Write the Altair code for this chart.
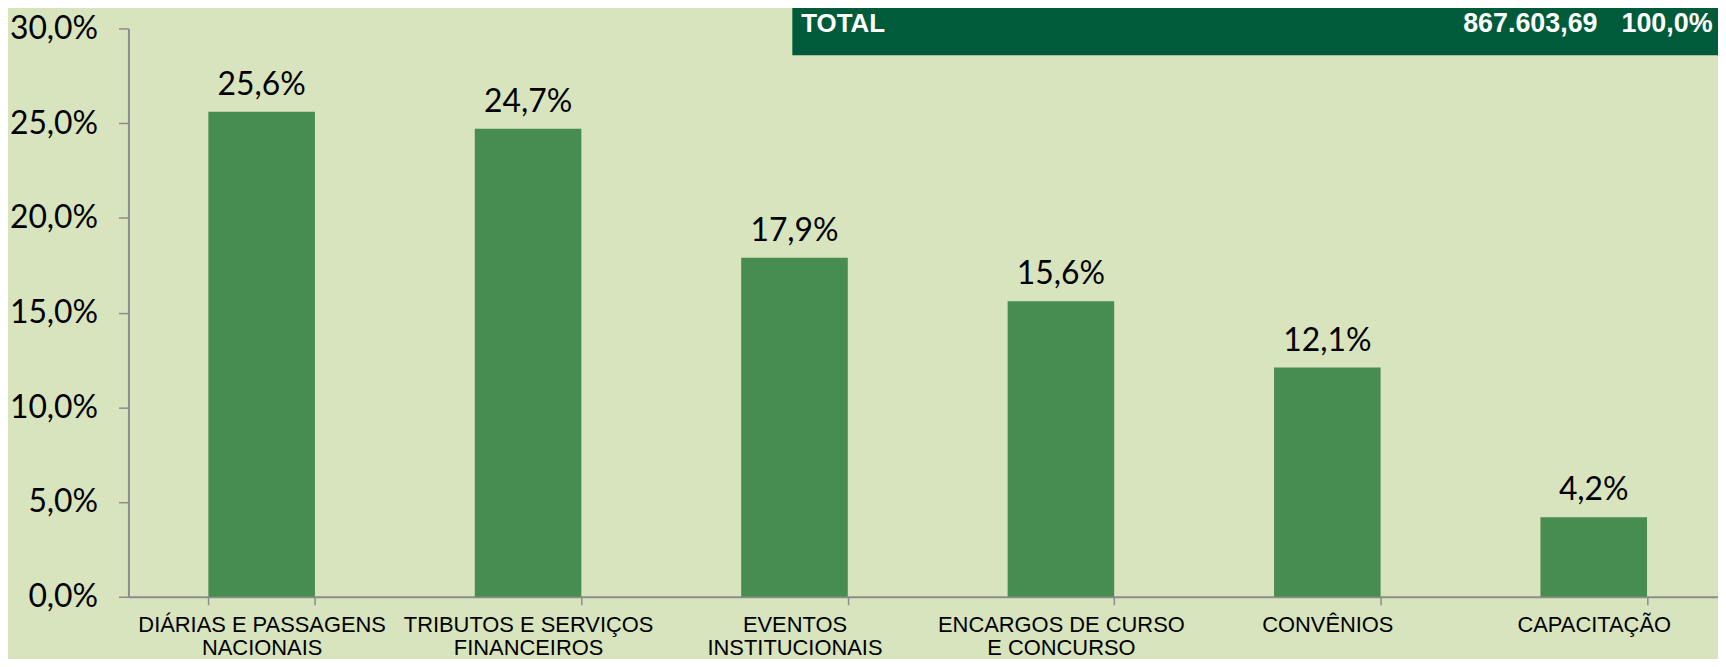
import altair as alt
import pandas as pd

categories = [
    "DIÁRIAS E PASSAGENS|NACIONAIS",
    "TRIBUTOS E SERVIÇOS|FINANCEIROS",
    "EVENTOS|INSTITUCIONAIS",
    "ENCARGOS DE CURSO|E CONCURSO",
    "CONVÊNIOS",
    "CAPACITAÇÃO",
]
shares = [25.6, 24.7, 17.9, 15.6, 12.1, 4.2]
labels = ["25,6%", "24,7%", "17,9%", "15,6%", "12,1%", "4,2%"]
total_row = ["TOTAL", "867.603,69", "100,0%"]

BG = "#D8E4BD"
BAR = "#478C50"
BOX = "#005B3B"
AXIS = "#8C8C8C"
NUMFONT = "Lato"
CATFONT = "Liberation Sans"
BOXFONT = "Liberation Sans"

df = pd.DataFrame({"cat": categories, "share": shares, "label": labels})

x = alt.X(
    "cat:N",
    sort=categories,
    title=None,
    scale=alt.Scale(paddingInner=0.6, paddingOuter=0.3, range=[0, 1606]),
    axis=alt.Axis(
        labelExpr="split(datum.label, '|')",
        labelAngle=0,
        labelFont=CATFONT,
        labelFontSize=22,
        labelColor="#000000",
        labelLineHeight=23,
        labelPadding=10,
        labelBaseline="top",
        tickBand="extent",
        tickSize=8,
        tickColor=AXIS,
        tickWidth=1.5,
        domainColor=AXIS,
        domainWidth=2,
        grid=False,
        labelLimit=400,
    ),
)
y = alt.Y(
    "share:Q",
    title=None,
    scale=alt.Scale(domain=[0, 30], nice=False),
    axis=alt.Axis(
        values=[0, 5, 10, 15, 20, 25, 30],
        labelExpr="replace(format(datum.value, '.1f'), '.', ',') + '%'",
        labelFont=NUMFONT,
        labelFontSize=32,
        labelColor="#000000",
        labelPadding=21,
        tickSize=10,
        tickColor=AXIS,
        tickWidth=1.5,
        domainColor=AXIS,
        domainWidth=2,
        grid=False,
    ),
)

base = alt.Chart(df)
bars = base.mark_bar(color=BAR).encode(x=x, y=y)
text = base.mark_text(
    font=NUMFONT, fontSize=32, color="#000000", baseline="alphabetic", dy=-17
).encode(x=alt.X("cat:N", sort=categories), y="share:Q", text="label:N")

one = pd.DataFrame({"t": [total_row[0]], "v": [total_row[1]], "p": [total_row[2]]})
box = alt.Chart(one).mark_rect(color=BOX).encode(
    x=alt.value(667), x2=alt.value(1640), y=alt.value(-30), y2=alt.value(27)
)
t1 = alt.Chart(one).mark_text(
    font=BOXFONT, fontSize=26, fontWeight="bold", color="white", align="left", baseline="middle"
).encode(x=alt.value(676), y=alt.value(-4), text="t:N")
t2 = alt.Chart(one).mark_text(
    font=BOXFONT, fontSize=27, fontWeight="bold", color="white", align="right", baseline="middle"
).encode(x=alt.value(1476), y=alt.value(-4), text="v:N")
t3 = alt.Chart(one).mark_text(
    font=BOXFONT, fontSize=27, fontWeight="bold", color="white", align="left", baseline="middle"
).encode(x=alt.value(1500), y=alt.value(-4), text="p:N")

chart = (
    alt.layer(bars, text, box, t1, t2, t3)
    .properties(
        width=1597,
        height=571,
        background=BG,
        autosize=alt.AutoSizeParams(type="none"),
        padding={"left": 121, "top": 19, "right": 0, "bottom": 61},
    )
    .configure_view(stroke=None)
)

chart.save("out.html", embed_options={"renderer": "svg", "actions": False})
